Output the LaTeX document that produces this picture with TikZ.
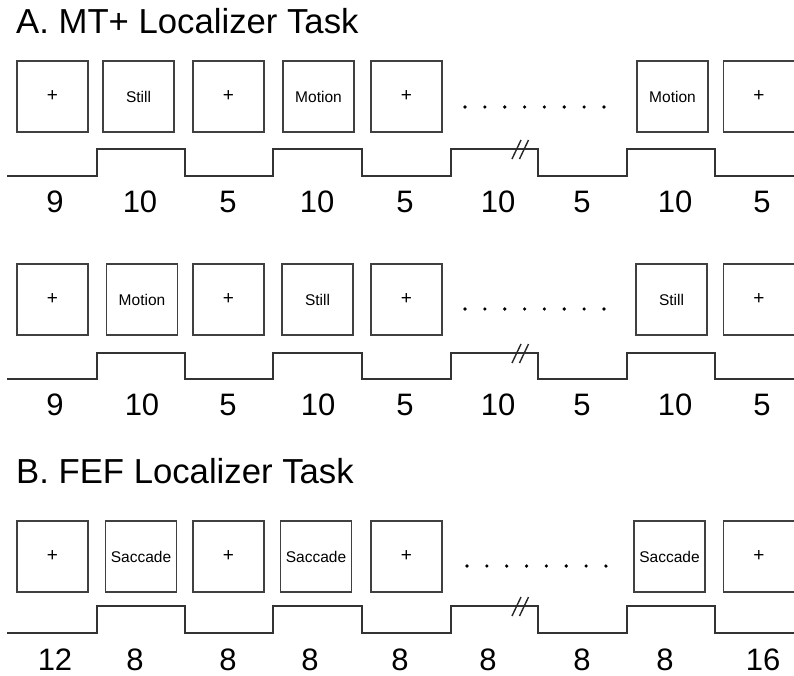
\documentclass[tikz,border=0pt]{standalone}
\usepackage{fontspec}
\setmainfont{Liberation Sans}
\begin{document}
\begin{tikzpicture}[x=1pt,y=-1pt,
  frame/.style={draw=black!75,line width=1.2pt,minimum width=71pt,minimum height=71pt,inner sep=0pt,font=\fontsize{15.5}{16}\selectfont},
  cross/.style={frame,font=\fontsize{19}{20}\selectfont},
  dur/.style={anchor=base,inner sep=0pt,font=\fontsize{31}{32}\selectfont},
  title/.style={anchor=base west,inner sep=0pt,font=\fontsize{34.7}{36}\selectfont},
  wave/.style={draw=black!80,line width=1.3pt},
  brk/.style={draw=black!85,line width=1.4pt},
  dot/.style={fill=black,circle,inner sep=0pt,minimum size=3.6pt}]
\useasboundingbox (0,0) rectangle (794,675);
% titles
\node[title] (tA) at (16,33) {A. MT+ Localizer Task};
\node[title] (tB) at (16,483) {B. FEF Localizer Task};
% row 1 boxes
\node[cross] (a1) at (52.5,96.5) {+};
\node[frame] (a2) at (138.5,96.5) {Still};
\node[cross] (a3) at (228.5,96.5) {+};
\node[frame] (a4) at (318.5,96.5) {Motion};
\node[cross] (a5) at (406.5,96.5) {+};
\node[frame] (a6) at (672.5,96.5) {Motion};
\node[cross] (a7) at (759,96.5) {+};
% row 2 boxes
\node[cross] (b1) at (52.5,299.5) {+};
\node[frame] (b2) at (142,299.5) {Motion};
\node[cross] (b3) at (228.5,299.5) {+};
\node[frame] (b4) at (317.5,299.5) {Still};
\node[cross] (b5) at (406.5,299.5) {+};
\node[frame] (b6) at (671.5,299.5) {Still};
\node[cross] (b7) at (759,299.5) {+};
% row 3 boxes
\node[cross] (c1) at (52.5,556.5) {+};
\node[frame] (c2) at (141,556.5) {Saccade};
\node[cross] (c3) at (228.5,556.5) {+};
\node[frame] (c4) at (316,556.5) {Saccade};
\node[cross] (c5) at (406.5,556.5) {+};
\node[frame] (c6) at (669.5,556.5) {Saccade};
\node[cross] (c7) at (759,556.5) {+};
% dots
\foreach \i in {0,...,7} {
  \node[dot] (da\i) at (465+19.85*\i,107) {};
  \node[dot] (db\i) at (465+19.85*\i,309) {};
  \node[dot] (dc\i) at (467+19.85*\i,566) {};
}
% waveforms
\foreach \H/\L in {149/176, 353/379, 606/633} {
  \draw[wave] (7,\L) -- (97,\L) -- (97,\H) -- (185,\H) -- (185,\L) -- (273,\L) -- (273,\H) -- (362,\H) -- (362,\L)
    -- (451,\L) -- (451,\H) -- (538,\H) -- (538,\L) -- (627,\L) -- (627,\H) -- (715,\H) -- (715,\L) -- (794,\L);
  \draw[brk] (512,\H+10) -- (521,\H-9);
  \draw[brk] (519.5,\H+10) -- (528.5,\H-9);
}
% durations
\foreach \x/\t [count=\k] in {55/9,140/10,228/5,317/10,405/5,498/10,582/5,675/10,762/5} {
  \node[dur] (na\k) at (\x,212) {\t};
}
\foreach \x/\t [count=\k] in {55/9,142/10,228/5,318/10,405/5,498/10,582/5,675/10,762/5} {
  \node[dur] (nb\k) at (\x,415) {\t};
}
\foreach \x/\t [count=\k] in {55/12,135/8,228/8,310/8,400/8,488/8,582/8,665/8,763/16} {
  \node[dur] (nc\k) at (\x,670) {\t};
}
\end{tikzpicture}
\end{document}
